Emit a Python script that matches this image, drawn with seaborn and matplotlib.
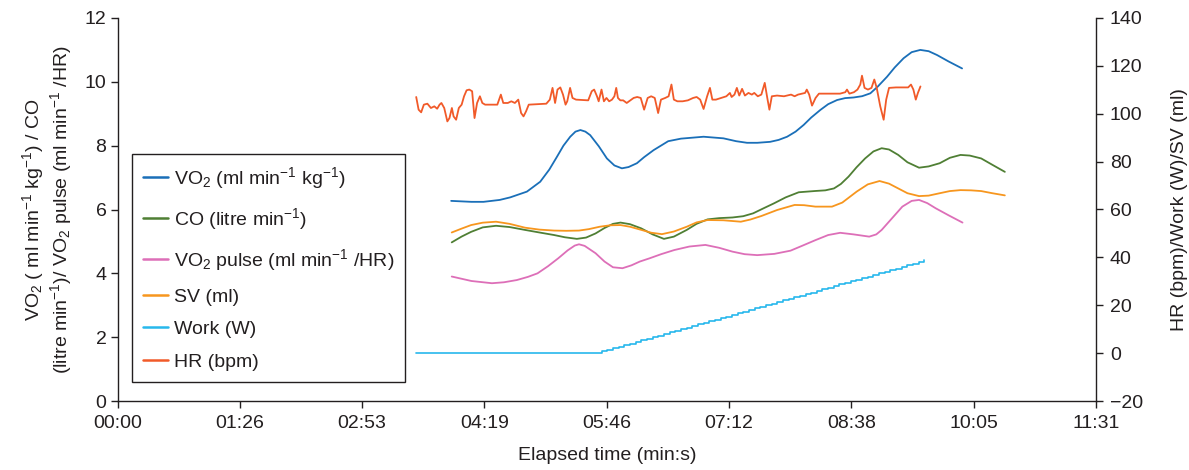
import matplotlib
matplotlib.use("Agg")
import matplotlib.pyplot as plt
import seaborn as sns
from matplotlib.lines import Line2D

# ---------------- data (time in seconds) ----------------
tick_seconds = [0, 86.4, 172.8, 259.2, 345.6, 432.0, 518.4, 604.8, 691.2]
tick_labels = ["00:00", "01:26", "02:53", "04:19", "05:46", "07:12", "08:38", "10:05", "11:31"]

vo2_t = [235.7, 250, 258.5, 270, 277.4, 289.2, 298.6, 305, 310.4, 315, 319.8, 323.5, 327,
         330.5, 333.9, 340, 345.7, 351, 356.3, 361, 366.9, 372, 378.7, 389, 398, 414, 428,
         437, 444.7, 452, 461, 467, 473, 479, 484.7, 490, 496.5, 502, 508.3, 514, 520, 526,
         531.8, 537, 543.6, 549, 555.3, 561, 567.1, 573, 578.9, 587, 596.6]
vo2_v = [6.27, 6.24, 6.24, 6.30, 6.38, 6.56, 6.87, 7.25, 7.65, 8.00, 8.28, 8.44, 8.49,
         8.44, 8.33, 7.98, 7.60, 7.38, 7.29, 7.33, 7.45, 7.64, 7.86, 8.14, 8.22, 8.28, 8.23,
         8.14, 8.09, 8.09, 8.12, 8.18, 8.28, 8.44, 8.65, 8.88, 9.12, 9.30, 9.43, 9.49, 9.51, 9.55,
         9.64, 9.85, 10.16, 10.45, 10.74, 10.93, 11.00, 10.96, 10.84, 10.64, 10.42]

co_t = [236.1, 243, 249.8, 258, 267.4, 277, 287.9, 298, 308.4, 316, 324.5, 331, 337.7, 344,
        350, 355.3, 362, 369.9, 378, 386.0, 393, 402.1, 409, 416.8, 425, 434.4, 442, 449.0,
        456, 463.6, 472, 481.2, 492.9, 500, 506.1, 511, 516.4, 522, 528.1, 534, 539.8, 545,
        551.5, 558, 566.2, 573, 580.8, 588, 595.5, 602, 610.1, 618, 626.8]
co_v = [4.97, 5.15, 5.30, 5.44, 5.49, 5.45, 5.36, 5.28, 5.20, 5.13, 5.08, 5.12, 5.25, 5.42,
        5.55, 5.59, 5.54, 5.41, 5.22, 5.08, 5.15, 5.36, 5.55, 5.69, 5.73, 5.75, 5.79, 5.88,
        6.03, 6.19, 6.38, 6.54, 6.58, 6.60, 6.66, 6.80, 7.03, 7.32, 7.60, 7.82, 7.92, 7.88,
        7.71, 7.48, 7.31, 7.35, 7.45, 7.62, 7.71, 7.69, 7.60, 7.40, 7.18]

pulse_t = [236.1, 250, 264.5, 273, 282.1, 290, 296.7, 304, 311.3, 318, 323, 326.0, 330, 337.7,
           344, 350, 356.7, 363, 369, 375.8, 384, 393.3, 404, 415.3, 425, 434.4, 443, 451.9,
           464, 475.4, 484, 493.0, 502, 510.5, 520, 531.0, 536, 539.8, 547, 554.4, 561, 566.2,
           572, 577.9, 587, 596.9]
pulse_v = [3.90, 3.76, 3.69, 3.72, 3.79, 3.89, 4.00, 4.22, 4.47, 4.72, 4.87, 4.91, 4.86, 4.63,
           4.37, 4.19, 4.16, 4.25, 4.37, 4.47, 4.60, 4.73, 4.84, 4.89, 4.80, 4.68, 4.60, 4.57,
           4.61, 4.71, 4.87, 5.04, 5.20, 5.27, 5.22, 5.15, 5.22, 5.36, 5.72, 6.09, 6.27, 6.30,
           6.20, 6.04, 5.82, 5.59]

sv_t = [236.1, 243, 249.8, 258, 267.4, 277, 287.9, 298, 308.4, 317, 326.0, 333, 340.6, 348,
        355.3, 362, 369.9, 377, 384.6, 393, 402.1, 409, 416.8, 428, 440.3, 447, 454.9, 466,
        478.3, 485, 493.0, 504.7, 512, 522.2, 530, 538.3, 545, 551.5, 558, 566.2, 573, 580.8,
        588, 595.5, 603, 610.1, 618, 626.8]
sv_v = [50.4, 52.0, 53.5, 54.5, 54.9, 54.0, 52.4, 51.6, 51.2, 51.1, 51.2, 51.8, 52.8, 53.4,
        53.5, 52.8, 51.5, 50.3, 49.7, 50.8, 52.8, 54.6, 55.6, 55.5, 54.9, 55.8, 57.3, 59.8,
        61.9, 61.8, 61.2, 61.2, 62.9, 67.5, 70.5, 71.9, 70.8, 68.8, 66.8, 65.6, 65.8, 66.8,
        67.7, 68.1, 68.0, 67.7, 66.8, 65.9]

work_t = [211, 342, 346, 350, 354, 358, 362, 366, 370, 374, 378, 382, 386, 390, 394, 398,
          402, 406, 410, 414, 418, 422, 426, 430, 434, 438, 442, 446, 450, 454, 458, 462,
          466, 470, 474, 478, 482, 486, 490, 494, 498, 502, 506, 510, 514, 518, 522, 526,
          530, 534, 538, 542, 546, 550, 554, 558, 562, 566, 570]
work_w = [0, 0.7, 1.3, 2.0, 2.7, 3.3, 4.0, 4.7, 5.3, 6.0, 6.7, 7.3, 8.0, 8.7, 9.3, 10.0,
          10.7, 11.3, 12.0, 12.7, 13.3, 14.0, 14.7, 15.3, 16.0, 16.7, 17.3, 18.0, 18.7, 19.3,
          20.0, 20.7, 21.3, 22.0, 22.7, 23.3, 24.0, 24.7, 25.3, 26.0, 26.7, 27.3, 28.0, 28.7,
          29.3, 30.0, 30.7, 31.3, 32.0, 32.7, 33.3, 34.0, 34.7, 35.3, 36.0, 36.7, 37.3, 38.0,
          38.7]

hr_t = [211.0, 212.7, 214.5, 216.4, 218.9, 221.4, 223.8, 225.8, 227.5, 228.8, 230.8, 233.0,
        234.5, 236.2, 237.4, 239.2, 241.1, 243.1, 244.8, 246.6, 248.5, 250.5, 252.2, 254.0,
        256.0, 257.7, 259.7, 268.3, 270.8, 272.5, 275.7, 278.2, 280.7, 283.1, 285.1, 286.8,
        288.6, 290.5, 302.9, 305.4, 307.3, 309.1, 310.8, 312.8, 314.7, 316.5, 317.7, 319.7,
        321.4, 323.9, 332.5, 335.0, 336.7, 338.7, 339.9, 341.9, 343.6, 345.4, 347.3, 349.3,
        351.0, 352.3, 353.5, 355.2, 357.2, 359.7, 362.2, 364.6, 367.1, 369.6, 372.0, 374.5,
        377.0, 379.5, 381.9, 383.9, 386.9, 389.3, 391.3, 393.0, 395.5, 399.2, 402.9, 406.6,
        409.1, 411.6, 414.0, 416.5, 418.5, 420.2, 422.7, 426.4, 430.1, 432.6, 433.8, 435.8,
        437.5, 439.2, 441.2, 443.2, 445.7, 448.1, 449.8, 452.3, 454.8, 457.2, 459.0, 460.5,
        462.2, 465.9, 470.8, 475.8, 478.3, 480.7, 485.7, 486.9, 488.6, 490.6, 493.1, 495.5,
        510.4, 514.1, 515.3, 517.0, 520.2, 522.7, 524.7, 525.9, 527.7, 530.1, 532.6, 534.6,
        536.3, 538.8, 541.2, 543.0, 545.0, 549.9, 558.5, 560.5, 562.2, 563.9, 565.4, 567.2]
hr_v = [107.0, 101.7, 100.6, 103.8, 104.2, 102.4, 103.1, 102.1, 103.8, 104.5, 102.4, 96.8,
        98.2, 102.4, 98.9, 97.5, 102.4, 103.8, 107.3, 109.8, 110.1, 109.4, 98.2, 104.5,
        107.3, 104.5, 103.8, 103.8, 108.0, 104.5, 104.5, 105.2, 104.5, 105.9, 100.3, 98.9,
        101.0, 103.8, 104.2, 105.9, 110.8, 104.5, 110.1, 111.0, 108.0, 103.8, 105.2, 110.8,
        106.6, 105.9, 105.6, 109.4, 110.1, 107.3, 105.2, 110.1, 105.2, 106.6, 105.2, 105.9,
        107.3, 110.8, 106.6, 105.6, 105.6, 104.5, 105.6, 106.6, 107.0, 106.6, 101.7, 106.6,
        107.3, 106.6, 100.3, 105.9, 106.6, 107.3, 112.2, 105.9, 105.2, 105.2, 105.6, 106.6,
        107.0, 105.9, 102.0, 107.3, 110.8, 105.9, 105.9, 106.6, 107.3, 108.7, 107.0, 108.0,
        110.8, 107.6, 110.4, 107.6, 108.7, 108.0, 108.7, 107.3, 108.0, 112.9, 106.6, 101.7,
        107.3, 107.6, 107.3, 108.0, 107.3, 108.0, 108.7, 110.1, 108.0, 103.4, 106.6, 108.4,
        108.4, 109.0, 110.1, 108.4, 109.0, 110.1, 112.2, 115.9, 110.8, 110.1, 110.8, 114.3,
        110.8, 103.1, 97.5, 105.9, 110.8, 111.0, 111.0, 112.2, 110.1, 105.9, 108.7, 111.4]

labels = {
    "vo2": r"VO$_2$ (ml min$^{-1}$ kg$^{-1}$)",
    "co": r"CO (litre min$^{-1}$)",
    "pulse": r"VO$_2$ pulse (ml min$^{-1}$ /HR)",
    "sv": "SV (ml)",
    "work": "Work (W)",
    "hr": "HR (bpm)",
}
colors = {
    "vo2": "#1a6fb8",
    "co": "#4f7f34",
    "pulse": "#dd6fb8",
    "sv": "#f7961e",
    "work": "#27b8ec",
    "hr": "#f15a29",
}

# ---------------- style ----------------
sns.set_theme(style="white")
plt.rcParams["font.family"] = ["Liberation Sans", "DejaVu Sans"]
plt.rcParams["mathtext.fontset"] = "custom"
plt.rcParams["mathtext.rm"] = "Liberation Sans"
plt.rcParams["mathtext.it"] = "Liberation Sans:italic"
plt.rcParams["mathtext.bf"] = "Liberation Sans:bold"
plt.rcParams["text.color"] = "#231f20"
plt.rcParams["axes.labelcolor"] = "#231f20"

FS = 14

fig = plt.figure(figsize=(11.89, 4.70), dpi=100)
ax = fig.add_axes([117.5 / 1189, 1 - 401 / 470, (1096 - 117.5) / 1189, (401 - 18) / 470])
ax2 = ax.twinx()

lw = 1.3
sns.lineplot(x=vo2_t, y=vo2_v, ax=ax, color=colors["vo2"], lw=lw, estimator=None, sort=False)
sns.lineplot(x=co_t, y=co_v, ax=ax, color=colors["co"], lw=lw, estimator=None, sort=False)
sns.lineplot(x=pulse_t, y=pulse_v, ax=ax, color=colors["pulse"], lw=lw, estimator=None, sort=False)
sns.lineplot(x=sv_t, y=sv_v, ax=ax2, color=colors["sv"], lw=lw, estimator=None, sort=False)
sns.lineplot(x=work_t, y=work_w, ax=ax2, color=colors["work"], lw=1.2, estimator=None,
             sort=False, drawstyle="steps-post")
sns.lineplot(x=hr_t, y=hr_v, ax=ax2, color=colors["hr"], lw=lw, estimator=None, sort=False)

ax.set_xlim(0, 691.2)
ax.set_ylim(0, 12)
ax2.set_ylim(-20, 140)
ax.set_xticks(tick_seconds)
ax.set_xticklabels(tick_labels)
ax.set_yticks([0, 2, 4, 6, 8, 10, 12])
ax2.set_yticks([-20, 0, 20, 40, 60, 80, 100, 120, 140])

dark = "#231f20"
for a in (ax, ax2):
    a.spines["top"].set_visible(False)
    for s in ("left", "right", "bottom"):
        a.spines[s].set_color(dark)
        a.spines[s].set_linewidth(1.0)
    a.tick_params(colors=dark, labelsize=FS, length=5, width=1.0, direction="out")
    a.grid(False)
ax.spines["right"].set_visible(False)
ax2.spines["left"].set_visible(False)
ax2.spines["bottom"].set_visible(False)
ax.tick_params(axis="y", left=True, right=False, pad=3)
ax.tick_params(axis="x", bottom=True, pad=5)
ax2.tick_params(axis="y", right=True, left=False, pad=5)

ax.set_xlabel("Elapsed time (min:s)", fontsize=FS, labelpad=11)
ax.set_ylabel(r"VO$_2$ ( ml min$^{-1}$ kg$^{-1}$) / CO" "\n"
              r"(litre min$^{-1}$)/ VO$_2$ pulse (ml min$^{-1}$ /HR)",
              fontsize=FS, labelpad=8, linespacing=1.1)
ax2.set_ylabel("HR (bpm)/Work (W)/SV (ml)", fontsize=FS, labelpad=20)

order = ["vo2", "co", "pulse", "sv", "work", "hr"]
handles = [Line2D([0], [0], color=colors[k], lw=1.8) for k in order]
leg = ax2.legend(handles, [labels[k] for k in order], loc="upper left",
                 bbox_to_anchor=(132 / 1189, 1 - 154 / 470), bbox_transform=fig.transFigure,
                 borderaxespad=0, frameon=True, fancybox=False, framealpha=1,
                 edgecolor=dark, fontsize=FS, handlelength=1.3, handletextpad=0.3,
                 labelspacing=0.78, borderpad=0.55)
leg.get_frame().set_linewidth(1.0)
leg.set_zorder(10)

fig.savefig("out.png", dpi=100)
